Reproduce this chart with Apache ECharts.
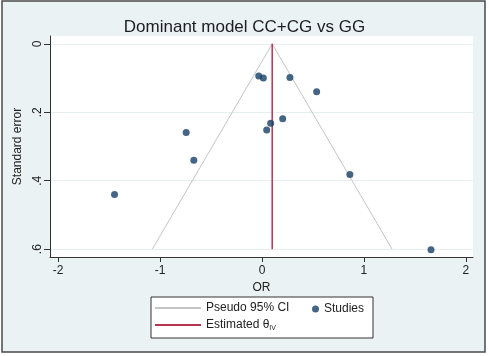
<!DOCTYPE html>
<html>
<head>
<meta charset="utf-8">
<script src="https://cdn.jsdelivr.net/npm/echarts@6/dist/echarts.min.js"></script>
<style>
  html, body { margin: 0; padding: 0; background: #fff; }
  #funnel { width: 489px; height: 356px; }
</style>
</head>
<body>
<div id="funnel"></div>
<script>
// studies: OR (log scale) and standard error
var studyOR = [-0.032, 0.013, 0.274, 0.536, 0.203, 0.085, 0.046, -0.744, -0.669, -1.447, 0.862, 1.658];
var studySE = [0.094, 0.100, 0.098, 0.140, 0.219, 0.232, 0.252, 0.259, 0.340, 0.440, 0.382, 0.602];

// pseudo 95% CI funnel (bottom left -> apex -> bottom right)
var ciOR = [-1.076, 0.1, 1.276];
var ciSE = [0.6, 0, 0.6];

// estimated effect
var thetaOR = [0.1, 0.1];
var thetaSE = [0, 0.6];

var xTicks = [-2, -1, 0, 1, 2];
var yTicks = [0, 0.2, 0.4, 0.6];

function pairs(xs, ys) {
  return xs.map(function (x, i) { return [x, ys[i]]; });
}

var chart = echarts.init(document.getElementById('funnel'));
var option = {
  backgroundColor: '#fff',
  animation: false,
  textStyle: { fontFamily: 'Liberation Sans, Arial, sans-serif' },
  title: {
    text: 'Dominant model CC+CG vs GG',
    left: 'center',
    top: 14,
    textStyle: { fontSize: 17, fontWeight: 'normal', color: '#1c1c22' }
  },
  graphic: [
    { type: 'rect', z: -10, shape: { x: 2, y: 1, width: 483, height: 351 },
      style: { fill: '#eaf2f3', stroke: '#4a4a4a', lineWidth: 1.5 } },
    { type: 'rect', z: 1, shape: { x: 151, y: 297, width: 222, height: 41 },
      style: { fill: '#fff', stroke: '#333', lineWidth: 1 } }
  ],
  grid: {
    left: 50, right: 16, top: 36, bottom: 99,
    show: true, backgroundColor: '#fff', borderWidth: 0
  },
  legend: [
    {
      data: [
        { name: 'Pseudo 95% CI', icon: 'rect' },
        { name: 'Estimated θ', icon: 'rect' }
      ],
      orient: 'vertical',
      left: 155, top: 302, padding: 0,
      itemWidth: 46, itemHeight: 2, itemGap: 5, itemTextGap: 7,
      formatter: function (n) { return n === 'Estimated θ' ? 'Estimated θ{s|IV}' : n; },
      textStyle: { fontSize: 12, color: '#222', rich: { s: { fontSize: 7, verticalAlign: 'bottom', padding: [6, 0, 0, 0] } } },
      selectedMode: false
    },
    {
      data: [{ name: 'Studies', icon: 'circle' }],
      left: 312, top: 303, padding: 0,
      itemWidth: 7, itemHeight: 7, itemTextGap: 7,
      textStyle: { fontSize: 12, color: '#222' },
      selectedMode: false
    }
  ],
  xAxis: {
    type: 'value',
    min: -2.08, max: 2.07,
    name: 'OR', nameLocation: 'middle', nameGap: 20,
    nameTextStyle: { fontSize: 12, color: '#222' },
    axisLine: { onZero: false, lineStyle: { color: '#333', width: 1 } },
    axisTick: { show: true, length: 5, customValues: xTicks, lineStyle: { color: '#333' } },
    axisLabel: { customValues: xTicks, fontSize: 12, color: '#222', margin: 8 },
    splitLine: { show: false }
  },
  yAxis: {
    type: 'value',
    inverse: true,
    min: -0.023, max: 0.623,
    name: 'Standard error', nameLocation: 'middle', nameGap: 22, nameRotate: 90,
    nameTextStyle: { fontSize: 12, color: '#222' },
    axisLine: { show: true, onZero: false, lineStyle: { color: '#333', width: 1 } },
    axisTick: { show: true, length: 6, customValues: yTicks, lineStyle: { color: '#333' } },
    axisLabel: {
      customValues: yTicks, fontSize: 12, color: '#222', rotate: 90, margin: 6,
      formatter: function (v) { return v === 0 ? '0' : String(v).replace(/^0/, ''); }
    },
    splitLine: { show: true, lineStyle: { color: '#e6eef0', width: 1 } }
  },
  series: [
    {
      name: 'Pseudo 95% CI', type: 'line', color: '#c4c4c4',
      data: pairs(ciOR, ciSE), symbol: 'none',
      lineStyle: { color: '#c4c4c4', width: 1 }, z: 2
    },
    {
      name: 'Estimated θ', type: 'line', color: '#b8334f',
      data: pairs(thetaOR, thetaSE), symbol: 'none',
      lineStyle: { color: '#b8334f', width: 1.5 }, z: 3
    },
    {
      name: 'Studies', type: 'scatter', color: '#163f66',
      data: pairs(studyOR, studySE), symbolSize: 7,
      itemStyle: { color: '#163f66' }, z: 4
    }
  ]
};
chart.setOption(option);
</script>
</body>
</html>
